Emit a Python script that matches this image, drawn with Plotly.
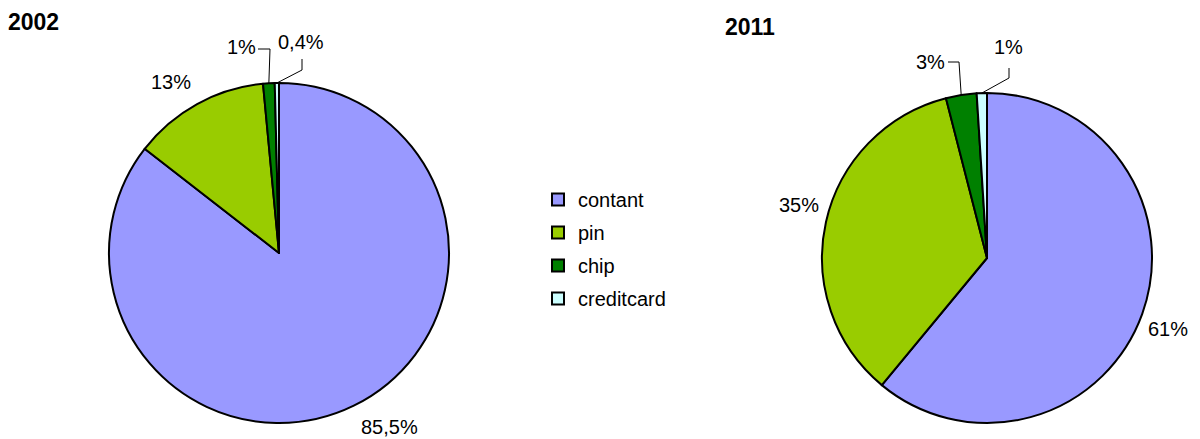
import math
import plotly.graph_objects as go

categories = ["contant", "pin", "chip", "creditcard"]
values_2002 = [85.5, 13, 1.1, 0.4]
labels_2002 = ["85,5%", "13%", "1%", "0,4%"]
values_2011 = [61, 35, 3, 1]
labels_2011 = ["61%", "35%", "3%", "1%"]
colors = ["#9999FF", "#99CC00", "#008000", "#CCFFFF"]

W, H = 1200, 439
OFF = 8  # page body margin
FONT = "Liberation Sans, Arial"
font = dict(family=FONT, size=20, color="black")


def px(X):
    return (X - OFF) / W


def py(Y):
    return 1 - (Y - OFF) / H


fig = go.Figure()


def add_pie(vals, texts, cx, cy, r, name, callouts):
    total = sum(vals)
    fig.add_trace(go.Pie(
        labels=categories, values=vals, text=texts, name=name,
        textinfo="none", sort=False, direction="clockwise", rotation=0,
        marker=dict(colors=colors, line=dict(color="black", width=2)),
        domain=dict(x=[px(cx - r), px(cx + r)], y=[py(cy + r), py(cy - r)]),
        showlegend=False, hoverinfo="label+text",
    ))
    cum = 0
    for i, v in enumerate(vals):
        mid = (cum + v / 2) / total * 2 * math.pi
        cum += v
        (lx, ly), path, anchor = callouts[i]
        if path:
            ex, ey = cx + r * math.sin(mid), cy - r * math.cos(mid)
            pts = [(ex, ey)] + path
            d = "M {} {}".format(px(pts[0][0]), py(pts[0][1]))
            for (a, b) in pts[1:]:
                d += " L {} {}".format(px(a), py(b))
            fig.add_shape(type="path", path=d, xref="paper", yref="paper",
                          line=dict(color="black", width=1))
        fig.add_annotation(text=texts[i], x=px(lx), y=py(ly), xref="paper", yref="paper",
                           xanchor=anchor, yanchor="middle", showarrow=False, font=font)


add_pie(values_2002, labels_2002, 279, 253, 170, "2002", [
    ((389, 427), [], "center"),
    ((171, 82), [], "center"),
    ((258, 47), [(270, 49), (258, 49)], "right"),
    ((301, 42), [(302, 70), (302, 59)], "center"),
])
add_pie(values_2011, labels_2011, 987, 258, 165, "2011", [
    ((1168, 329), [], "center"),
    ((799, 205), [], "center"),
    ((947, 62), [(959, 62), (948, 62)], "right"),
    ((1009, 47), [(1009, 78), (1009, 68)], "center"),
])

for c, col in zip(categories, colors):
    fig.add_trace(go.Scatter(
        x=[None], y=[None], mode="markers", name=c, legendgroup=c,
        marker=dict(symbol="square", size=12, color=col, line=dict(color="black", width=2)),
    ))

fig.add_annotation(text="<b>2002</b>", x=px(8) - 2 / W, y=py(22), xref="paper", yref="paper",
                   xanchor="left", yanchor="middle", showarrow=False,
                   font=dict(family=FONT, size=23, color="black"))
fig.add_annotation(text="<b>2011</b>", x=px(725) - 2 / W, y=py(27), xref="paper", yref="paper",
                   xanchor="left", yanchor="middle", showarrow=False,
                   font=dict(family=FONT, size=23, color="black"))

fig.update_layout(
    width=W, height=H, margin=dict(l=0, r=0, t=0, b=0),
    paper_bgcolor="white", plot_bgcolor="white",
    xaxis=dict(visible=False), yaxis=dict(visible=False),
    legend=dict(x=px(538), y=py(180), xanchor="left", yanchor="top",
                font=font, tracegroupgap=4, itemwidth=30, bgcolor="rgba(0,0,0,0)"),
    showlegend=True,
)

fig.write_html("out.html")
